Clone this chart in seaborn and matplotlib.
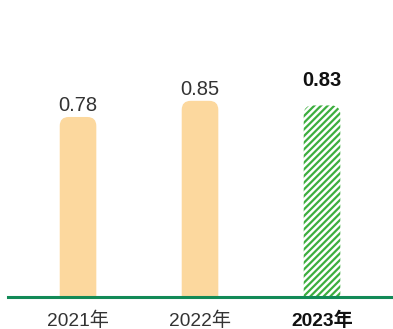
import matplotlib
matplotlib.use("Agg")
import matplotlib.pyplot as plt
from matplotlib.patches import FancyBboxPatch
import seaborn as sns
import pandas as pd

years = ["2021年", "2022年", "2023年"]
values = [0.78, 0.85, 0.83]
value_labels = ["0.78", "0.85", "0.83"]

BAR_FILL = "#FCD89E"
HATCH_GREEN = "#3DAE3F"
AXIS_GREEN = "#128A57"

sns.set_theme(style="white")
plt.rcParams["font.family"] = ["Liberation Sans", "Noto Sans CJK SC"]
plt.rcParams["hatch.linewidth"] = 1.6

W, H, DPI = 393, 329, 100
fig = plt.figure(figsize=(W / DPI, H / DPI), dpi=DPI)
ax = fig.add_axes([8 / W, 32 / H, 1 - 8 / W, (297 - 15) / H])

df = pd.DataFrame({"year": years, "value": values})
sns.barplot(data=df, x="year", y="value", color=BAR_FILL, width=0.30,
            saturation=1, ax=ax)

ax.set_xlim(-0.574, 2.582)
ymax = (297 - 15) / 230.8
ax.set_ylim(0, ymax)

# pixel scales to keep the top corners circular
px_x = (W - 8) / (2.582 + 0.574)
px_y = 282 / ymax
r_px = 9
rx = r_px / px_x
aspect = (r_px / px_y) / rx

bars = list(ax.patches)
for i, bar in enumerate(bars):
    x0, w, h = bar.get_x(), bar.get_width(), bar.get_height()
    bar.remove()
    last = i == len(bars) - 1
    patch = FancyBboxPatch(
        (x0, -0.1), w, h + 0.1,
        boxstyle=f"round,pad=0,rounding_size={rx}",
        mutation_aspect=aspect,
        facecolor="white" if last else BAR_FILL,
        edgecolor=HATCH_GREEN if last else "none",
        hatch="/////" if last else None,
        linewidth=0,
    )
    ax.add_patch(patch)
    ax.annotate(value_labels[i], (x0 + w / 2, h),
                xytext=(0, 11 if last else 1.5), textcoords="offset points",
                ha="center", va="bottom", fontsize=14.5,
                fontweight="bold" if last else "normal",
                color="#111111" if last else "#333333")

ax.set_xlabel("")
ax.set_ylabel("")
ax.set_yticks([])
for s in ["top", "right", "left"]:
    ax.spines[s].set_visible(False)
ax.spines["bottom"].set_color(AXIS_GREEN)
ax.spines["bottom"].set_linewidth(2.2)
ax.tick_params(axis="x", length=0, pad=10.5, labelsize=13.8, labelcolor="#333333")
ticks = ax.get_xticklabels()
ticks[-1].set_fontweight("bold")
ticks[-1].set_color("#111111")

fig.savefig("out.png", dpi=DPI)
